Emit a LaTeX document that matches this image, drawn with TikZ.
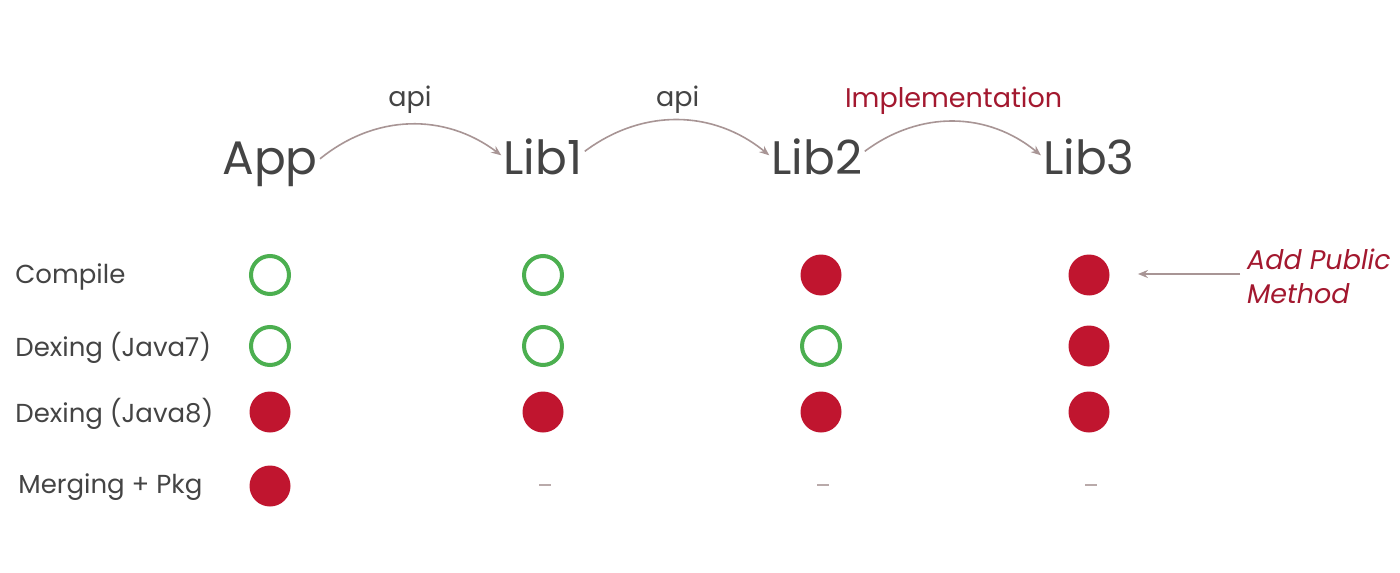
\documentclass[tikz,border=0pt]{standalone}
\usepackage{fontspec}
\setmainfont{Poppins}
\usetikzlibrary{arrows.meta}

\definecolor{txtgray}{HTML}{444444}
\definecolor{linkgray}{HTML}{A89595}
\definecolor{okgreen}{HTML}{4CAF50}
\definecolor{badred}{HTML}{C0152F}
\definecolor{notered}{HTML}{A3182F}

\tikzset{
  module/.style={font=\fontsize{23.5}{28}\selectfont, text=txtgray, inner sep=1pt, anchor=base},
  task/.style={font=\fontsize{13}{16}\selectfont, text=txtgray, inner sep=0pt, anchor=west},
  link/.style={draw=linkgray, line width=0.8pt, -{Stealth[length=5pt,width=4pt]}},
  linklabel/.style={font=\fontsize{13.5}{16}\selectfont, text=txtgray, inner sep=0pt},
  passed/.style={circle, draw=okgreen, line width=2pt, minimum size=19pt, inner sep=0pt},
  failed/.style={circle, fill=badred, minimum size=20.5pt, inner sep=0pt},
  skipped/.style={rectangle, fill=linkgray!80, minimum width=6pt, minimum height=1pt, inner sep=0pt},
}

\begin{document}
\begin{tikzpicture}[x=0.5pt, y=-0.5pt]
    \useasboundingbox[fill=white] (0,0) rectangle (1400,572);

    % modules
    \node[module] (app)  at (270,175)  {App};
    \node[module] (lib1) at (543,175)  {Lib1};
    \node[module] (lib2) at (817,175)  {Lib2};
    \node[module] (lib3) at (1089,175) {Lib3};

    % dependencies
    \draw[link] ([yshift=3pt]app.east) to[bend left=38]
        node[linklabel, above=5pt, pos=0.5]{api} ([yshift=1pt]lib1.west);
    \draw[link] ([yshift=3pt]lib1.east) to[bend left=38]
        node[linklabel, above=3pt, pos=0.5]{api} ([yshift=1pt]lib2.west);
    \draw[link] ([yshift=3pt]lib2.east) to[bend left=38]
        node[linklabel, above=3pt, pos=0.5, text=notered]{Implementation} ([yshift=1pt]lib3.west);

    % tasks
    \node[task] (compile) at (15,277) {Compile};
    \node[task] (dex7)    at (15,348) {Dexing (Java7)};
    \node[task] (dex8)    at (15,414) {Dexing (Java8)};
    \node[task] (merge)   at (18,487) {Merging + Pkg};

    % results, Compile
    \node[passed] (c-app)  at (270,275)  {};
    \node[passed] (c-lib1) at (543,275)  {};
    \node[failed] (c-lib2) at (821,275)  {};
    \node[failed] (c-lib3) at (1089,275) {};
    % results, Dexing (Java7)
    \node[passed] (d7-app)  at (270,346)  {};
    \node[passed] (d7-lib1) at (543,346)  {};
    \node[passed] (d7-lib2) at (821,346)  {};
    \node[failed] (d7-lib3) at (1089,346) {};
    % results, Dexing (Java8)
    \node[failed] (d8-app)  at (270,412)  {};
    \node[failed] (d8-lib1) at (543,412)  {};
    \node[failed] (d8-lib2) at (821,412)  {};
    \node[failed] (d8-lib3) at (1089,412) {};
    % results, Merging + Pkg
    \node[failed]  (m-app)  at (270,486)  {};
    \node[skipped] (m-lib1) at (545,485)  {};
    \node[skipped] (m-lib2) at (823,485)  {};
    \node[skipped] (m-lib3) at (1091,485) {};

    % change
    \node[font=\fontsize{13.5}{17}\selectfont\itshape, text=notered, align=left, anchor=west]
        (change) at (1240,276) {Add Public\\Method};
    \draw[link] (change.west |- c-lib3) ++(0,-1) coordinate (change-tail)
        (change-tail) -- ([xshift=14pt,yshift=0.5pt]c-lib3.east);
\end{tikzpicture}
\end{document}
